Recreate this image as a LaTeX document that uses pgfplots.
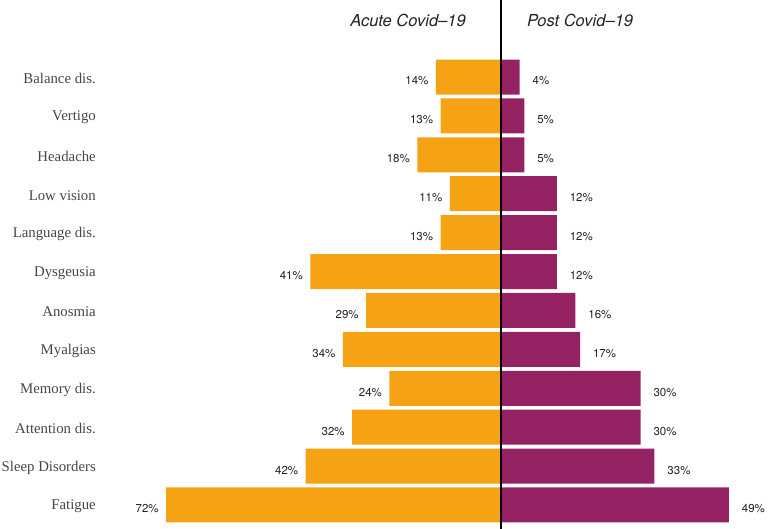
\documentclass[border=0pt]{standalone}
\usepackage{fontspec}
\setmainfont{Liberation Serif}
\newfontfamily\hel{TeX Gyre Heros}
\usepackage{pgfplots}
\pgfplotsset{compat=1.18}
\definecolor{acute}{RGB}{245,163,20}
\definecolor{post}{RGB}{149,35,100}
\definecolor{cattxt}{RGB}{70,70,70}
\definecolor{valtxt}{RGB}{35,35,35}
\begin{document}
\begin{tikzpicture}
\useasboundingbox (-100pt,0pt) rectangle (668pt,529pt);
\begin{axis}[
  at={(0pt,0pt)}, anchor=south west,
  scale only axis,
  width=668pt, height=529pt,
  xmin=-86.24, xmax=57.42,
  ymin=-0.617, ymax=12.98,
  xbar, bar width=35pt, bar shift=0pt,
  axis line style={draw=none},
  tick style={draw=none},
  major tick length=0pt,
  xtick=\empty,
  ytick={0,...,11},
  yticklabels={Fatigue,Sleep Disorders,Attention dis.,Memory dis.,Myalgias,Anosmia,Dysgeusia,Language dis.,Low vision,Headache,Vertigo,Balance dis.},
  yticklabel style={font=\fontsize{14.8}{17}\selectfont, text=cattxt, yshift=-1.5pt, inner sep=4pt},
  clip=false,
  point meta=explicit,
  /pgf/number format/assume math mode=true,
  nodes near coords={\pgfmathprintnumber[assume math mode=true]{\pgfplotspointmeta}\%},
  every node near coord/.append style={font=\hel\fontsize{11.5}{13}\selectfont, text=valtxt},
]
\addplot[fill=acute, draw=none,
  every node near coord/.append style={anchor=east, xshift=-4pt, yshift=-4pt}]
coordinates {
(-72,0) [72]
(-42,1) [42]
(-32,2) [32]
(-24,3) [24]
(-34,4) [34]
(-29,5) [29]
(-41,6) [41]
(-13,7) [13]
(-11,8) [11]
(-18,9) [18]
(-13,10) [13]
(-14,11) [14]
};
\addplot[fill=post, draw=none,
  every node near coord/.append style={anchor=west, xshift=9.5pt, yshift=-4pt}]
coordinates {
(49,0) [49]
(33,1) [33]
(30,2) [30]
(30,3) [30]
(17,4) [17]
(16,5) [16]
(12,6) [12]
(12,7) [12]
(12,8) [12]
(5,9) [5]
(5,10) [5]
(4,11) [4]
};
\draw[black, line width=1.4pt] (axis cs:0,-0.617) -- (axis cs:0,12.98);
\node[font=\hel\itshape\fontsize{16.5}{19}\selectfont, text=valtxt] at (axis cs:-20,12.45) {Acute Covid–19};
\node[font=\hel\itshape\fontsize{16.5}{19}\selectfont, text=valtxt] at (axis cs:17,12.45) {Post Covid–19};
\end{axis}
\end{tikzpicture}
\end{document}
